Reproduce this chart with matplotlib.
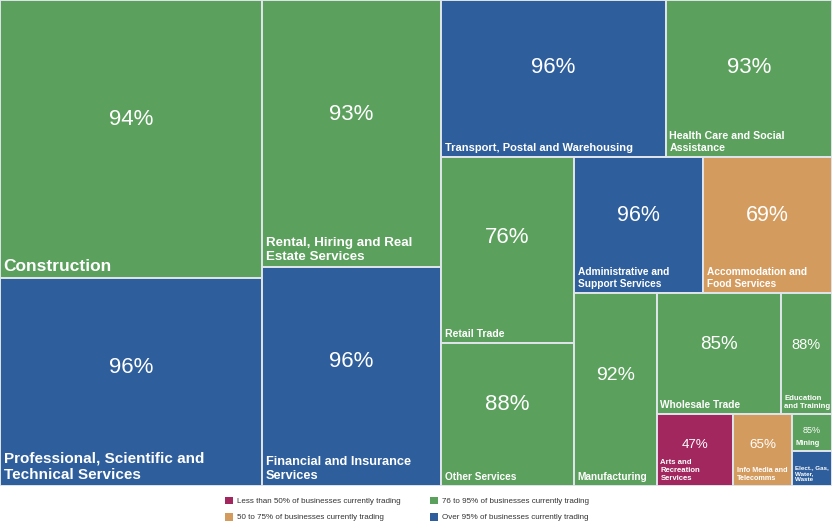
import matplotlib
matplotlib.use("Agg")
import matplotlib.pyplot as plt
from matplotlib.patches import Rectangle, Patch

W, H = 832, 486  # treemap area in pixels

industries = [
    "Construction",
    "Professional, Scientific and\nTechnical Services",
    "Rental, Hiring and Real\nEstate Services",
    "Financial and Insurance\nServices",
    "Transport, Postal and Warehousing",
    "Health Care and Social\nAssistance",
    "Retail Trade",
    "Other Services",
    "Administrative and\nSupport Services",
    "Accommodation and\nFood Services",
    "Manufacturing",
    "Wholesale Trade",
    "Education\nand Training",
    "Arts and\nRecreation\nServices",
    "Info Media and\nTelecomms",
    "Mining",
    "Elect., Gas,\nWater,\nWaste",
]
# relative number of businesses
sizes = [728, 545, 478, 392, 353, 261, 247, 190, 175, 175, 160, 150, 62, 55, 42, 15, 14]
# % of businesses currently trading
trading = [94, 96, 93, 96, 96, 93, 76, 88, 96, 69, 92, 85, 88, 47, 65, 85, 96]
# how many cells go in each strip of the treemap
strips = [2, 2, 2, 2, 2, 1, 2, 1, 1, 1, 1]

band_labels = [
    "Less than 50% of businesses currently trading",
    "50 to 75% of businesses currently trading",
    "76 to 95% of businesses currently trading",
    "Over 95% of businesses currently trading",
]
band_colours = ["#a1275e", "#d49b5f", "#5ba05c", "#2e5e9b"]

# label styling per cell
name_fs = [12.5, 11, 9.6, 9.2, 8.0, 7.7, 7.6, 7.3, 7.3, 7.3, 7.3, 7.3, 5.6, 5.6, 5.2, 5.4, 4.5]
pct_fs = [16, 16, 16, 16, 16, 16, 16, 16, 15.5, 15.5, 14, 13.5, 10.5, 9.6, 9.6, 6.5, 0]


def band(p):
    if p < 50:
        return 0
    if p <= 75:
        return 1
    if p <= 95:
        return 2
    return 3


def strip_layout(values, counts, x, y, w, h):
    scale = w * h / sum(values)
    areas = [v * scale for v in values]
    rects = []
    i = 0
    for n in counts:
        row = areas[i:i + n]
        s = sum(row)
        if w >= h:
            cw = s / h
            yy = y
            for a in row:
                rects.append((x, yy, cw, a / cw))
                yy += a / cw
            x += cw
            w -= cw
        else:
            rh = s / w
            xx = x
            for a in row:
                rects.append((xx, y, a / rh, rh))
                xx += a / rh
            y += rh
            h -= rh
        i += n
    return rects


plt.rcParams["font.family"] = ["Liberation Sans", "DejaVu Sans"]

fig = plt.figure(figsize=(8.32, 5.31), dpi=100)
ax = fig.add_axes([0, 45 / 531, 1, H / 531])
ax.set_xlim(0, W)
ax.set_ylim(H, 0)
ax.axis("off")

rects = strip_layout(sizes, strips, 0, 0, W, H)
for (x, y, w, h), name, p, nfs, pfs in zip(rects, industries, trading, name_fs, pct_fs):
    ax.add_patch(Rectangle((x, y), w, h, facecolor=band_colours[band(p)],
                           edgecolor="#dfe5ea", linewidth=1.4))
    ax.text(x + 3.5, y + h - 4, name, color="white", fontsize=nfs,
            fontweight="bold", ha="left", va="bottom", linespacing=1.25)
    if pfs:
        ax.text(x + w / 2, y + h * 0.43, f"{p}%", color="white", fontsize=pfs,
                ha="center", va="center")

handles = [Patch(facecolor=c, edgecolor="none") for c in band_colours]
fig.legend(handles, band_labels, loc="center", ncol=2,
           bbox_to_anchor=(407 / 832, 1 - 509 / 531), frameon=False,
           fontsize=5.8, handlelength=1.0, handleheight=1.1,
           handletextpad=0.5, columnspacing=3.6, labelspacing=0.95,
           labelcolor="#333333")

fig.savefig("out.png", dpi=100)
